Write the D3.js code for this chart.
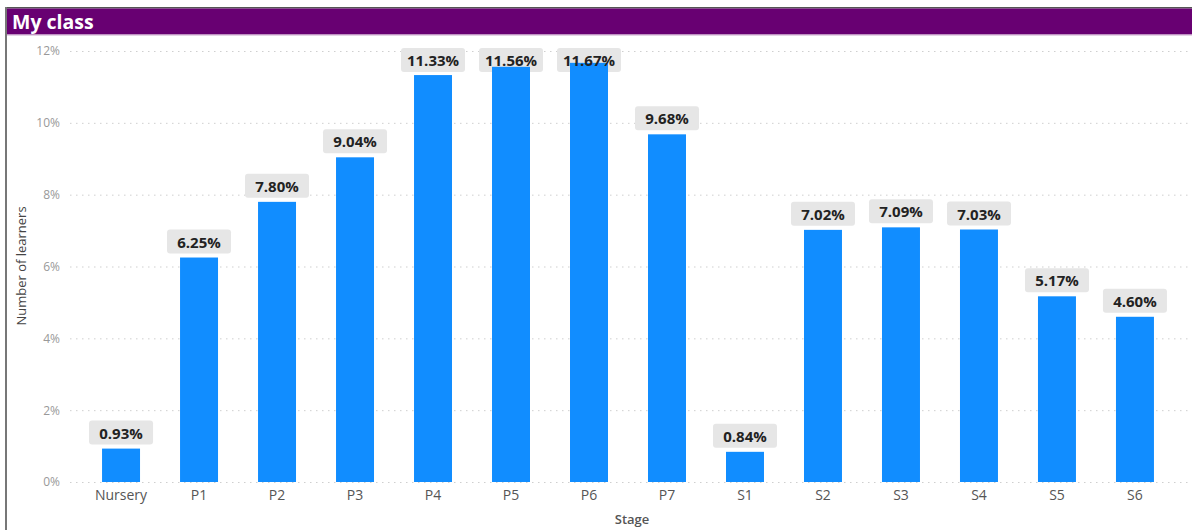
<!DOCTYPE html>
<html lang="en">
<head>
    <meta charset="UTF-8">
    <title>My class</title>
    <script src="https://cdnjs.cloudflare.com/ajax/libs/d3/7.8.5/d3.min.js"></script>
    <style>
        body { margin: 0; background: #fff; }
        text { font-family: "Segoe UI", "Open Sans", "Noto Sans", sans-serif; }
    </style>
</head>
<body>

<script>
    var stages = ["Nursery", "P1", "P2", "P3", "P4", "P5", "P6", "P7", "S1", "S2", "S3", "S4", "S5", "S6"];
    var shares = [0.93, 6.25, 7.80, 9.04, 11.33, 11.56, 11.67, 9.68, 0.84, 7.02, 7.09, 7.03, 5.17, 4.60];
    var yTicks = [0, 2, 4, 6, 8, 10, 12];

    var width = 1192,
        height = 530;

    var svg = d3.select("body").append("svg")
            .attr("width", width)
            .attr("height", height);

    // header strip
    svg.append("rect").attr("x", 6).attr("y", 7).attr("width", width - 6).attr("height", 1.5).attr("fill", "#555");
    svg.append("rect").attr("x", 6).attr("y", 8.5).attr("width", width - 6).attr("height", 26).attr("fill", "#680072");
    svg.append("rect").attr("x", 6).attr("y", 34.5).attr("width", width - 6).attr("height", 1).attr("fill", "#c9a6cc");
    svg.append("text").attr("x", 12).attr("y", 29)
        .attr("fill", "#fff").attr("font-size", 19.5).attr("font-weight", "bold")
        .text("My class");
    // left border
    svg.append("rect").attr("x", 5).attr("y", 7).attr("width", 2).attr("height", height - 7).attr("fill", "#777");

    var x = d3.scaleBand().domain(stages).range([82, 1174]).paddingInner(0.513).paddingOuter(0.257);
    var y = d3.scaleLinear().domain([0, 12]).range([482, 51]);

    // gridlines + tick labels
    var yAxis = svg.append("g")
        .attr("transform", "translate(70,0)")
        .call(d3.axisLeft(y).tickValues(yTicks).tickSize(-(width - 70)).tickPadding(10)
            .tickFormat(function (d) { return d + "%"; }));
    yAxis.select(".domain").remove();
    yAxis.selectAll(".tick line").attr("stroke", "#cfcfcf").attr("stroke-dasharray", "1.5,4.5");
    yAxis.selectAll(".tick text").attr("fill", "#999").attr("font-size", 12);

    // data label positions (clamped under the top of the plot)
    function labelTop(i) { return Math.max(y(shares[i]) - 28, 48); }
    function cx(d) { return x(d) + x.bandwidth() / 2; }

    // label backgrounds sit behind the bars
    svg.selectAll("rect.lblbg").data(stages)
        .enter().append("rect").attr("class", "lblbg")
        .attr("x", function (d) { return cx(d) - 32; })
        .attr("y", function (d, i) { return labelTop(i); })
        .attr("width", 64).attr("height", 24).attr("rx", 3)
        .attr("fill", "#e6e6e6");

    // bars
    svg.selectAll("rect.bar").data(stages)
        .enter().append("rect").attr("class", "bar")
        .attr("x", function (d) { return x(d); })
        .attr("y", function (d, i) { return y(shares[i]); })
        .attr("width", x.bandwidth())
        .attr("height", function (d, i) { return y(0) - y(shares[i]); })
        .attr("fill", "#118DFF");

    svg.selectAll("text.lbl").data(stages)
        .enter().append("text").attr("class", "lbl")
        .attr("x", cx)
        .attr("y", function (d, i) { return labelTop(i) + 18; })
        .attr("text-anchor", "middle")
        .attr("font-size", 15).attr("font-weight", "bold").attr("fill", "#222")
        .text(function (d, i) { return shares[i].toFixed(2) + "%"; });

    // x axis
    var xAxis = svg.append("g")
        .attr("transform", "translate(0,482)")
        .call(d3.axisBottom(x).tickSize(0).tickPadding(8));
    xAxis.select(".domain").remove();
    xAxis.selectAll(".tick text").attr("fill", "#555").attr("font-size", 14);

    // axis titles
    svg.append("text").attr("x", 632).attr("y", 524).attr("text-anchor", "middle")
        .attr("fill", "#555").attr("font-size", 13).attr("font-weight", 600).text("Stage");
    svg.append("text").attr("transform", "translate(26,266) rotate(-90)").attr("text-anchor", "middle")
        .attr("fill", "#444").attr("font-size", 13).text("Number of learners");
</script>

</body>
</html>
